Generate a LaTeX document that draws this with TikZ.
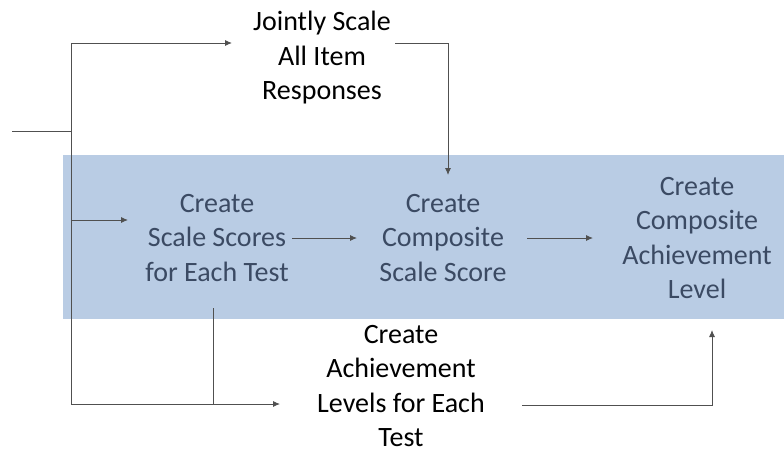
\documentclass[tikz,border=0pt]{standalone}
\usepackage{fontspec}
\setmainfont{Carlito}
\usetikzlibrary{arrows.meta}
\definecolor{band}{HTML}{B9CCE4}
\definecolor{bandtext}{HTML}{3B4A63}
\definecolor{linegray}{HTML}{505050}
\begin{document}
\begin{tikzpicture}[x=1pt,y=-1pt,
  lbl/.style={align=center,inner sep=0pt,font=\fontsize{28}{34.5}\selectfont},
  inband/.style={lbl,text=bandtext},
  conn/.style={draw=linegray,line width=0.9pt},
  arr/.style={conn,-{Latex[length=7pt,width=6pt]}}]
\useasboundingbox (0,0) rectangle (784,452);
\fill[band] (63,155) rectangle (784,319);
% nodes
\node[lbl] (joint) at (322,58) {Jointly Scale\\All Item\\Responses};
\node[inband] (sss) at (217,238) {Create\\Scale Scores\\for Each Test};
\node[inband] (css) at (443,238) {Create\\Composite\\Scale Score};
\node[inband] (cal) at (697,238) {Create\\Composite\\Achievement\\Level};
\node[lbl] (ale) at (401,386) {Create\\Achievement\\Levels for Each\\Test};
% coordinates
\coordinate (in) at (12,131);
\coordinate (spl) at (71,131);
\coordinate (top) at (71,43);
\coordinate (bot) at (71,404);
\coordinate (mid) at (71,220);
\coordinate (jEnd) at (232,43);
\coordinate (jOut) at (395,43);
\coordinate (jCorner) at (448,43);
\coordinate (cssIn) at (448,175);
\coordinate (sssIn) at (128,220);
\coordinate (sssOut) at (292,238);
\coordinate (cssL) at (357,238);
\coordinate (cssOut) at (527,238);
\coordinate (calL) at (593,238);
\coordinate (sssDown) at (213,308);
\coordinate (sssJoin) at (213,404);
\coordinate (aleIn) at (280,404);
\coordinate (aleOut) at (522,405);
\coordinate (aCorner) at (712,405);
\coordinate (calIn) at (712,330);
% connectors
\draw[conn] (in) -- (spl);
\draw[conn] (bot) -- (top);
\draw[arr] (top) -- (jEnd);
\draw[arr] (jOut) -- (jCorner) -- (cssIn);
\draw[arr] (mid) -- (sssIn);
\draw[arr] (sssOut) -- (cssL);
\draw[arr] (cssOut) -- (calL);
\draw[conn] (sssDown) -- (sssJoin);
\draw[arr] (bot) -- (aleIn);
\draw[arr] (aleOut) -- (aCorner) -- (calIn);
\end{tikzpicture}
\end{document}
